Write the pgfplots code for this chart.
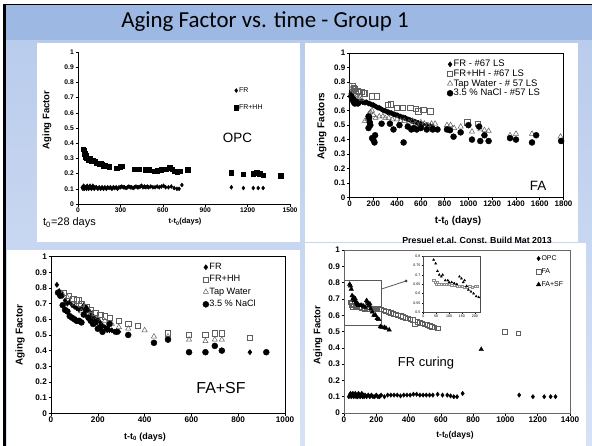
\documentclass[border=0pt]{standalone}
\usepackage{pgfplots}
\pgfplotsset{compat=1.18}
\usepackage{fontspec}
\setmainfont{Liberation Sans}
\newfontfamily\titlefont{Carlito}
\definecolor{slidetop}{RGB}{186,204,236}
\definecolor{slidebot}{RGB}{214,226,246}
\definecolor{titlebar}{RGB}{158,184,228}
\definecolor{mgray}{RGB}{95,95,95}
\pgfplotsset{
  excel/.style={
    scale only axis, anchor=south west, enlargelimits=false, clip=false,
    tick align=outside, xtick pos=bottom, ytick pos=left,
    major tick length=2.5bp,
    every tick/.style={black, line width=0.5bp},
    axis line style={black, line width=0.6bp},
    /pgf/number format/assume math mode=true,
    /pgf/number format/1000 sep={},
    xticklabel style={inner sep=1bp},
    yticklabel style={inner sep=1.5bp},
    legend cell align=left,
    legend image code/.code={\draw[mark repeat=2,mark phase=2,##1] plot coordinates {(0bp,0bp) (3bp,0bp) (6bp,0bp)};},
  },
  afticks/.style={ytick={0,0.1,0.2,0.3,0.4,0.5,0.6,0.7,0.8,0.9,1},
    yticklabels={0,0.1,0.2,0.3,0.4,0.5,0.6,0.7,0.8,0.9,1}, ymin=0, ymax=1},
}
\begin{document}
\begin{tikzpicture}
\begin{scope}[x=1bp,y=-1bp]
\path[use as bounding box] (0,0) rectangle (592,446);
\fill[white] (0,0) rectangle (592,446);
\shade[top color=slidetop, bottom color=slidebot] (5,40) rectangle (592,446);
\fill[titlebar] (5,5) rectangle (592,40);
\draw[black,line width=3bp] (4.5,4) -- (4.5,446);
\draw[black,line width=1.5bp] (3,4.5) -- (592,4.5);
\fill[white] (37,43) rectangle (300,242);
\fill[white] (305,43) rectangle (578,242);
\fill[white] (7,250) rectangle (300,446);
\fill[white] (305,243) rectangle (586,446);
\node[font=\titlefont\fontsize{23}{25}\selectfont] at (265,22) {Aging Factor vs. time - Group 1};
% panel 1 texts
\node[rotate=90,font=\bfseries\fontsize{9.5}{10}\selectfont] at (47,120) {Aging Factor};
\node[font=\bfseries\fontsize{7.5}{8}\selectfont] at (185,222) {t-t\textsubscript{0}(days)};
\node[anchor=west,inner sep=0pt,font=\fontsize{11}{12}\selectfont] at (43,223) {t\textsubscript{0}=28 days};
\node[font=\fontsize{13.5}{14}\selectfont] at (237.5,138) {OPC};
% panel 2 texts
\node[rotate=90,font=\bfseries\fontsize{10}{11}\selectfont] at (321.7,126) {Aging Factors};
\node[font=\bfseries\fontsize{10}{11}\selectfont] at (458,221) {t-t\textsubscript{0} (days)};
\node[font=\fontsize{13.5}{14}\selectfont] at (538,186) {FA};
\node[font=\bfseries\fontsize{8.8}{9}\selectfont] at (477,240) {Presuel et.al. Const. Build Mat 2013};
% panel 3 texts
\node[rotate=90,font=\bfseries\fontsize{10}{11}\selectfont] at (20,335) {Aging Factor};
\node[font=\bfseries\fontsize{9}{10}\selectfont] at (145,437.5) {t-t\textsubscript{0} (days)};
\node[font=\fontsize{16}{17}\selectfont] at (221,388) {FA+SF};
% panel 4 texts
\node[rotate=90,font=\bfseries\fontsize{9.5}{10}\selectfont] at (318,335) {Aging Factor};
\node[font=\bfseries\fontsize{8.5}{9}\selectfont] at (455,435) {t-t\textsubscript{0}(days)};
\node[font=\fontsize{13}{14}\selectfont] at (426,363) {FR curing};
\end{scope}

% ---------------- Panel 1: OPC ----------------
\begin{axis}[excel, at={(78bp,-204bp)}, width=212bp, height=152bp,
  xmin=0, xmax=1500, afticks, xtick={0,300,600,900,1200,1500},
  axis x line*=bottom, axis y line*=left,
  ticklabel style={font=\bfseries\fontsize{6.75}{7}\selectfont},
  legend style={at={(0.735,0.773)}, anchor=north west, draw=none, fill=none, inner sep=0pt,
    font=\fontsize{7}{8}\selectfont, row sep=9.5bp, nodes={inner sep=0.7bp}}]
\addplot[only marks, mark=diamond*, mark size=2bp, black] coordinates {
(30,0.11)(35,0.10)(40,0.12)(45,0.10)(50,0.11)(55,0.11)(60,0.10)(65,0.12)(70,0.11)(75,0.10)(80,0.11)(85,0.12)(90,0.11)(95,0.10)(100,0.11)(105,0.12)(110,0.11)(115,0.10)(120,0.11)(130,0.11)(140,0.10)(150,0.11)(160,0.10)(170,0.11)(180,0.10)(190,0.11)(200,0.10)(210,0.11)(220,0.105)(230,0.11)(240,0.10)(250,0.11)(260,0.105)(270,0.11)(280,0.10)(290,0.11)(300,0.11)(310,0.115)(320,0.11)(330,0.11)(340,0.105)(350,0.11)(360,0.115)(370,0.11)(380,0.11)(390,0.105)(400,0.11)(410,0.115)(420,0.11)(430,0.11)(440,0.115)(450,0.12)(460,0.11)(470,0.115)(480,0.11)(490,0.115)(500,0.11)(515,0.115)(530,0.11)(545,0.11)(560,0.115)(575,0.11)(590,0.115)(605,0.12)(620,0.11)(640,0.11)(660,0.115)(680,0.105)(700,0.10)(715,0.10)(735,0.125)(1085,0.11)(1170,0.105)(1240,0.105)(1275,0.105)(1310,0.105)};
\addlegendentry{FR}
\addplot[only marks, mark=square*, mark size=2.2bp, black] coordinates {
(35,0.36)(42,0.35)(48,0.33)(52,0.31)(58,0.32)(62,0.30)(68,0.30)(75,0.29)(82,0.30)(90,0.29)(98,0.28)(105,0.29)(112,0.28)(120,0.28)(130,0.27)(140,0.27)(150,0.26)(160,0.27)(170,0.26)(180,0.25)(190,0.255)(200,0.25)(210,0.25)(220,0.245)(275,0.235)(300,0.245)(310,0.25)(400,0.23)(420,0.23)(435,0.23)(475,0.225)(500,0.225)(540,0.215)(560,0.22)(590,0.225)(605,0.23)(625,0.23)(650,0.24)(665,0.23)(685,0.215)(700,0.21)(720,0.215)(775,0.225)(1085,0.205)(1170,0.195)(1240,0.20)(1265,0.205)(1285,0.20)(1310,0.19)(1435,0.185)};
\addlegendentry{FR+HH}
\end{axis}

% ---------------- Panel 2: FA ----------------
\begin{axis}[excel, at={(349.5bp,-197.3bp)}, width=214bp, height=144.3bp,
  xmin=0, xmax=1800, afticks, xtick={0,200,...,1800},
  ticklabel style={font=\bfseries\fontsize{8}{9}\selectfont},
  legend style={at={(0.455,0.955)}, anchor=north west, draw=none, fill=none, inner sep=0pt,
    font=\fontsize{9.5}{10}\selectfont, row sep=0.3bp, nodes={inner sep=0.6bp}}]
\addplot[only marks, mark=diamond*, mark size=2.6bp, black] coordinates {
(10,0.72)(15,0.70)(20,0.69)(25,0.68)(30,0.67)(35,0.69)(40,0.66)(45,0.68)(50,0.67)(55,0.66)(60,0.67)(70,0.66)(80,0.665)(90,0.66)(100,0.665)(110,0.66)(120,0.66)(130,0.655)(140,0.66)(150,0.655)(160,0.65)(170,0.65)(180,0.645)(190,0.64)(200,0.64)(210,0.635)(220,0.63)(230,0.625)(240,0.62)(250,0.62)(260,0.615)(270,0.61)(280,0.605)(290,0.60)(300,0.60)(310,0.595)(320,0.59)(330,0.59)(340,0.585)(350,0.585)(360,0.58)(370,0.575)(380,0.575)(390,0.57)(400,0.57)(410,0.565)(420,0.56)(430,0.56)(440,0.555)(450,0.555)(460,0.55)(470,0.55)(480,0.545)(490,0.54)(500,0.54)(510,0.535)(520,0.53)(530,0.53)(540,0.525)(550,0.525)(560,0.52)(570,0.515)(580,0.515)(600,0.51)(620,0.505)(650,0.50)(680,0.495)(700,0.49)};
\addlegendentry{FR - \#67 LS}
\addplot[only marks, mark=square, mark size=2.7bp, mgray, mark options={line width=0.6bp}] coordinates {
(25,0.77)(35,0.76)(45,0.75)(55,0.74)(65,0.74)(80,0.73)(100,0.73)(120,0.72)(130,0.72)(190,0.70)(230,0.70)(320,0.64)(345,0.645)(400,0.62)(450,0.62)(510,0.62)(560,0.615)(580,0.595)(620,0.605)(680,0.595)(990,0.52)(1080,0.51)};
\addlegendentry{FR+HH - \#67 LS}
\addplot[only marks, mark=triangle, mark size=3bp, mgray, mark options={line width=0.5bp}] coordinates {
(20,0.76)(30,0.74)(40,0.72)(50,0.71)(60,0.70)(80,0.69)(100,0.68)(130,0.53)(150,0.54)(165,0.58)(175,0.59)(190,0.60)(200,0.57)(220,0.55)(250,0.56)(280,0.56)(300,0.55)(330,0.55)(360,0.54)(400,0.54)(430,0.53)(460,0.53)(500,0.52)(530,0.53)(560,0.51)(600,0.52)(630,0.51)(660,0.50)(690,0.51)(720,0.51)(820,0.50)(850,0.50)(880,0.48)(935,0.49)(1030,0.455)(1100,0.47)(1135,0.465)(1170,0.46)(1350,0.43)(1400,0.44)(1535,0.44)(1775,0.42)};
\addlegendentry{Tap Water - \# 57 LS}
\addplot[only marks, mark=*, mark size=3bp, black] coordinates {
(15,0.70)(25,0.68)(35,0.66)(45,0.65)(55,0.66)(70,0.65)(160,0.56)(165,0.55)(170,0.52)(175,0.50)(160,0.48)(190,0.41)(200,0.40)(210,0.38)(215,0.43)(270,0.51)(340,0.51)(370,0.47)(420,0.50)(455,0.38)(490,0.49)(520,0.47)(540,0.48)(565,0.47)(600,0.48)(650,0.47)(700,0.47)(740,0.47)(820,0.47)(845,0.465)(875,0.42)(935,0.45)(1000,0.50)(1030,0.40)(1090,0.49)(1100,0.39)(1135,0.43)(1170,0.39)(1350,0.41)(1400,0.40)(1535,0.38)(1570,0.43)(1780,0.39)};
\addlegendentry{3.5 \% NaCl - \#57 LS}
\end{axis}

% ---------------- Panel 3: FA+SF ----------------
\begin{axis}[excel, at={(51bp,-413.3bp)}, width=234bp, height=156.7bp,
  xmin=0, xmax=1000, afticks, xtick={0,200,...,1000},
  ticklabel style={font=\bfseries\fontsize{8.2}{9}\selectfont},
  legend style={at={(0.648,0.962)}, anchor=north west, draw=none, fill=none, inner sep=0pt,
    font=\fontsize{9.2}{10}\selectfont, row sep=3.3bp, nodes={inner sep=0.6bp}}]
\addplot[only marks, mark=diamond*, mark size=2.6bp, black] coordinates {
(25,0.82)(35,0.78)(40,0.76)(45,0.77)(50,0.75)(60,0.72)(70,0.70)(80,0.71)(90,0.69)(100,0.68)(110,0.67)(120,0.66)(130,0.67)(140,0.69)(150,0.68)(160,0.66)(170,0.64)(180,0.62)(190,0.60)(200,0.60)(210,0.58)(220,0.56)(230,0.55)(240,0.53)(250,0.53)(260,0.53)(270,0.52)(290,0.52)(850,0.39)};
\addlegendentry{FR}
\addplot[only marks, mark=square, mark size=2.7bp, mgray, mark options={line width=0.6bp}] coordinates {
(55,0.77)(75,0.75)(95,0.73)(110,0.72)(120,0.72)(130,0.70)(150,0.68)(170,0.66)(190,0.64)(210,0.63)(230,0.62)(250,0.61)(290,0.59)(330,0.57)(370,0.56)(500,0.51)(590,0.50)(660,0.50)(700,0.51)(730,0.51)(850,0.48)};
\addlegendentry{FR+HH}
\addplot[only marks, mark=triangle, mark size=3bp, mgray, mark options={line width=0.5bp}] coordinates {
(50,0.76)(70,0.74)(100,0.70)(130,0.65)(150,0.64)(170,0.63)(200,0.61)(230,0.59)(260,0.57)(290,0.55)(330,0.54)(400,0.53)(440,0.49)(500,0.49)(590,0.47)(660,0.46)(700,0.47)(730,0.47)};
\addlegendentry{Tap Water}
\addplot[only marks, mark=*, mark size=3bp, black] coordinates {
(30,0.77)(40,0.75)(50,0.69)(60,0.66)(70,0.65)(80,0.62)(90,0.61)(100,0.60)(110,0.59)(120,0.59)(130,0.58)(140,0.63)(150,0.66)(160,0.61)(170,0.59)(180,0.57)(190,0.58)(200,0.54)(210,0.55)(220,0.52)(240,0.54)(250,0.57)(280,0.52)(330,0.50)(440,0.45)(500,0.47)(590,0.39)(660,0.39)(700,0.43)(730,0.40)(920,0.39)};
\addlegendentry{3.5 \% NaCl}
\end{axis}

% ---------------- Panel 4: FR curing ----------------
\begin{axis}[excel, at={(344bp,-413bp)}, width=226bp, height=163bp,
  xmin=0, xmax=1400, afticks, xtick={0,200,...,1400},
  axis line style={black!60, line width=0.8bp},
  ticklabel style={font=\bfseries\fontsize{8.2}{9}\selectfont},
  legend style={at={(0.85,0.972)}, anchor=north west, draw=none, fill=none, inner sep=0pt,
    font=\fontsize{7}{8}\selectfont, row sep=5.5bp, nodes={inner sep=0.6bp}}]
\addplot[only marks, mark=diamond*, mark size=2.2bp, black] coordinates {
(30,0.10)(35,0.11)(40,0.12)(45,0.10)(50,0.11)(55,0.12)(60,0.10)(65,0.11)(70,0.12)(75,0.10)(80,0.11)(85,0.10)(90,0.12)(95,0.11)(100,0.10)(105,0.11)(110,0.12)(115,0.10)(120,0.11)(125,0.10)(130,0.11)(140,0.10)(150,0.11)(160,0.10)(170,0.11)(180,0.10)(190,0.10)(200,0.11)(210,0.10)(220,0.10)(230,0.11)(250,0.10)(270,0.11)(290,0.11)(310,0.11)(330,0.11)(350,0.105)(370,0.11)(390,0.11)(410,0.11)(430,0.115)(450,0.115)(470,0.11)(490,0.11)(510,0.11)(530,0.11)(550,0.11)(580,0.115)(610,0.11)(640,0.11)(660,0.105)(680,0.10)(700,0.10)(735,0.12)(1085,0.11)(1170,0.10)(1240,0.10)(1280,0.10)(1310,0.10)};
\addlegendentry{OPC}
\addplot[only marks, mark=square, mark size=2.3bp, mgray, mark options={line width=0.6bp}] coordinates {
(40,0.68)(45,0.66)(50,0.67)(55,0.65)(60,0.66)(70,0.65)(80,0.65)(90,0.65)(100,0.65)(110,0.645)(120,0.645)(130,0.64)(140,0.64)(150,0.64)(160,0.635)(170,0.635)(180,0.64)(190,0.635)(200,0.64)(215,0.64)(230,0.635)(245,0.63)(260,0.625)(275,0.62)(290,0.615)(305,0.61)(320,0.605)(335,0.60)(350,0.595)(365,0.59)(380,0.585)(395,0.58)(410,0.575)(425,0.57)(440,0.545)(455,0.56)(470,0.555)(485,0.55)(500,0.545)(515,0.54)(530,0.535)(545,0.53)(560,0.525)(580,0.52)(995,0.50)(1080,0.49)};
\addlegendentry{FA}
\addplot[only marks, mark=triangle*, mark size=2.6bp, black] coordinates {
(35,0.79)(40,0.78)(45,0.76)(50,0.72)(55,0.70)(60,0.71)(65,0.69)(70,0.70)(75,0.68)(80,0.67)(85,0.67)(90,0.66)(100,0.66)(110,0.66)(120,0.655)(130,0.65)(140,0.69)(145,0.68)(150,0.67)(155,0.66)(160,0.67)(165,0.64)(175,0.62)(185,0.60)(195,0.60)(205,0.58)(215,0.575)(225,0.53)(235,0.525)(250,0.525)(260,0.52)(280,0.51)(850,0.39)};
\addlegendentry{FA+SF}
\draw[black!65, line width=0.9bp] (axis cs:0,0.54) rectangle (axis cs:230,0.815);
\draw[black!65, line width=0.8bp] (axis cs:230,0.76) -- (axis cs:385,0.81);
\fill[black!75] (axis cs:385,0.81) circle (1.5bp);
\end{axis}

% ---------------- Inset ----------------
\begin{axis}[excel, at={(423.3bp,-312.3bp)}, width=56.7bp, height=56.3bp,
  xmin=0, xmax=220, ymin=0.5, ymax=0.8, xtick={0,50,100,150,200},
  ytick={0.5,0.55,0.6,0.65,0.7,0.75,0.8}, yticklabels={0.5,0.55,0.6,0.65,0.7,0.75,0.8},
  major tick length=1.2bp, axis background/.style={fill=white},
  axis line style={black!70, line width=0.6bp},
  ticklabel style={font=\fontsize{3.6}{4}\selectfont, inner sep=0.6bp}]
\addplot[only marks, mark=square, mark size=1.1bp, black!45, mark options={line width=0.4bp}] coordinates {
(40,0.67)(45,0.66)(50,0.65)(55,0.66)(60,0.65)(70,0.65)(80,0.65)(90,0.65)(100,0.65)(110,0.645)(120,0.645)(130,0.64)(140,0.64)(150,0.64)(160,0.635)(170,0.635)(180,0.64)(190,0.635)(200,0.64)(210,0.64)};
\addplot[only marks, mark=triangle*, mark size=1.2bp, black] coordinates {
(40,0.78)(48,0.76)(55,0.72)(62,0.70)(70,0.69)(75,0.70)(85,0.67)(95,0.67)(100,0.66)(110,0.66)(120,0.655)(130,0.65)(140,0.69)(148,0.68)(155,0.66)(160,0.67)(168,0.64)(175,0.62)(185,0.61)(195,0.60)(205,0.585)(215,0.58)};
\end{axis}
\end{tikzpicture}
\end{document}
